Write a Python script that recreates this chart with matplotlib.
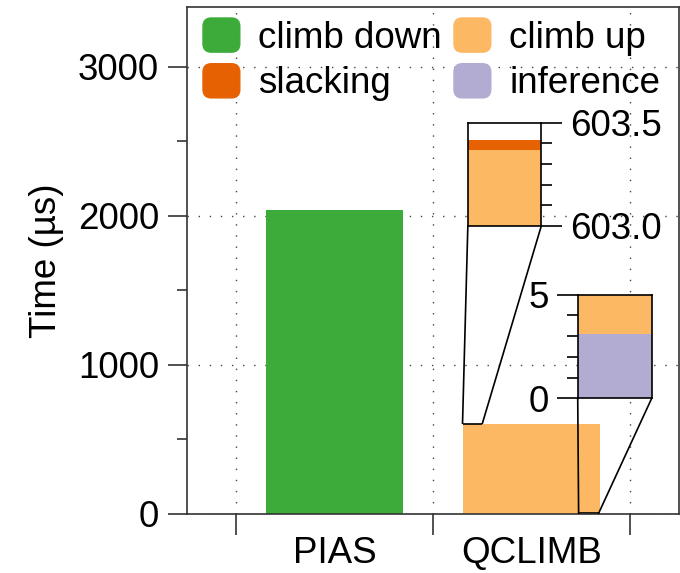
import numpy as np
import matplotlib
matplotlib.use("Agg")
import matplotlib.pyplot as plt
from matplotlib.patches import Patch, FancyBboxPatch
from matplotlib.legend_handler import HandlerPatch
from mpl_toolkits.axes_grid1.inset_locator import mark_inset

plt.rcParams['font.family'] = ['Liberation Sans', 'DejaVu Sans']
plt.rcParams['font.size'] = 26.5

systems = ['PIAS', 'QCLIMB']
climb_down = np.array([2040.0, 0.0])
inference = np.array([0.0, 3.1])
climb_up = np.array([0.0, 600.27])
slacking = np.array([0.0, 0.045])

c_down = '#3cab3a'
c_up = '#fdb863'
c_slack = '#e66101'
c_inf = '#b2abd2'

width = 0.7
spine_col = '#333333'


def draw_stack(ax):
    x = np.arange(len(systems))
    ax.bar(x, climb_down, width, color=c_down, linewidth=0)
    ax.bar(x, inference, width, color=c_inf, linewidth=0)
    ax.bar(x, climb_up, width, bottom=inference, color=c_up, linewidth=0)
    ax.bar(x, slacking, width, bottom=inference + climb_up, color=c_slack, linewidth=0)


def rounded_handle(legend, orig_handle, xdescent, ydescent, width, height, fontsize):
    return FancyBboxPatch((-xdescent, -ydescent), width, height,
                          boxstyle='round,pad=0,rounding_size=6')


fig = plt.figure(figsize=(6.8, 5.73), dpi=100)
ax = fig.add_axes([0.275, 0.103, 0.7235, 0.885])
draw_stack(ax)

ax.set_xlim(-0.75, 1.75)
ax.set_ylim(0, 3400)
ax.set_xticks([0, 1])
ax.set_xticklabels(systems)
ax.set_xticks([-0.5, 0.5, 1.5], minor=True)
ax.set_yticks([0, 1000, 2000, 3000])
ax.set_yticks([500, 1500, 2500], minor=True)
ax.set_ylabel('Time (µs)', labelpad=10)

ax.tick_params(axis='x', which='major', length=0, pad=16)
ax.tick_params(axis='x', which='minor', length=15, width=1.2, color=spine_col)
ax.tick_params(axis='y', which='major', length=14, width=1.2, color=spine_col, pad=6)
ax.tick_params(axis='y', which='minor', length=7, width=1.2, color=spine_col)
for s in ax.spines.values():
    s.set_color(spine_col)
    s.set_linewidth(1.2)

ax.set_axisbelow(True)
grid_style = dict(color='#444444', linestyle=(0, (1, 7)), linewidth=1.0)
ax.grid(True, which='major', axis='y', **grid_style)
ax.grid(True, which='minor', axis='x', **grid_style)

# zoom on the top of the QCLIMB stack
ax1 = fig.add_axes([0.688, 0.6056, 0.108, 0.180])
draw_stack(ax1)
ax1.set_xlim(0.65, 0.75)
ax1.set_ylim(603.0, 603.5)
ax1.yaxis.tick_right()
ax1.set_xticks([])
ax1.set_yticks([603.0, 603.5])
ax1.set_yticklabels(['603.0', '603.5'])
ax1.set_yticks([603.1, 603.2, 603.3, 603.4], minor=True)

# zoom on the bottom of the QCLIMB stack
ax2 = fig.add_axes([0.8496, 0.3049, 0.1088, 0.1808])
draw_stack(ax2)
ax2.set_xlim(1.24, 1.34)
ax2.set_ylim(0, 5)
ax2.set_xticks([])
ax2.set_yticks([0, 5])
ax2.set_yticks([1, 2, 3, 4], minor=True)

for a in (ax1, ax2):
    a.tick_params(axis='y', which='major', length=15, width=1.2, pad=6)
    a.tick_params(axis='y', which='minor', length=8, width=1.2)
    for s in a.spines.values():
        s.set_color('black')
        s.set_linewidth(1.2)

mark_inset(ax, ax1, loc1=3, loc2=4, fc='none', ec='black', lw=1.2)
mark_inset(ax, ax2, loc1=3, loc2=4, fc='none', ec='black', lw=1.2)

handles = [Patch(color=c_down), Patch(color=c_slack), Patch(color=c_up), Patch(color=c_inf)]
labels = ['climb down', 'slacking', 'climb up', 'inference']
ax.legend(handles, labels, ncol=2, loc='upper left',
          bbox_to_anchor=(203 / 680, 1 - 18 / 573), bbox_transform=fig.transFigure,
          frameon=False, borderpad=0, borderaxespad=0,
          handlelength=1.0, handleheight=1.05, handletextpad=0.5,
          columnspacing=0.33, labelspacing=0.22,
          handler_map={Patch: HandlerPatch(patch_func=rounded_handle)})

fig.savefig('out.png', dpi=100)
